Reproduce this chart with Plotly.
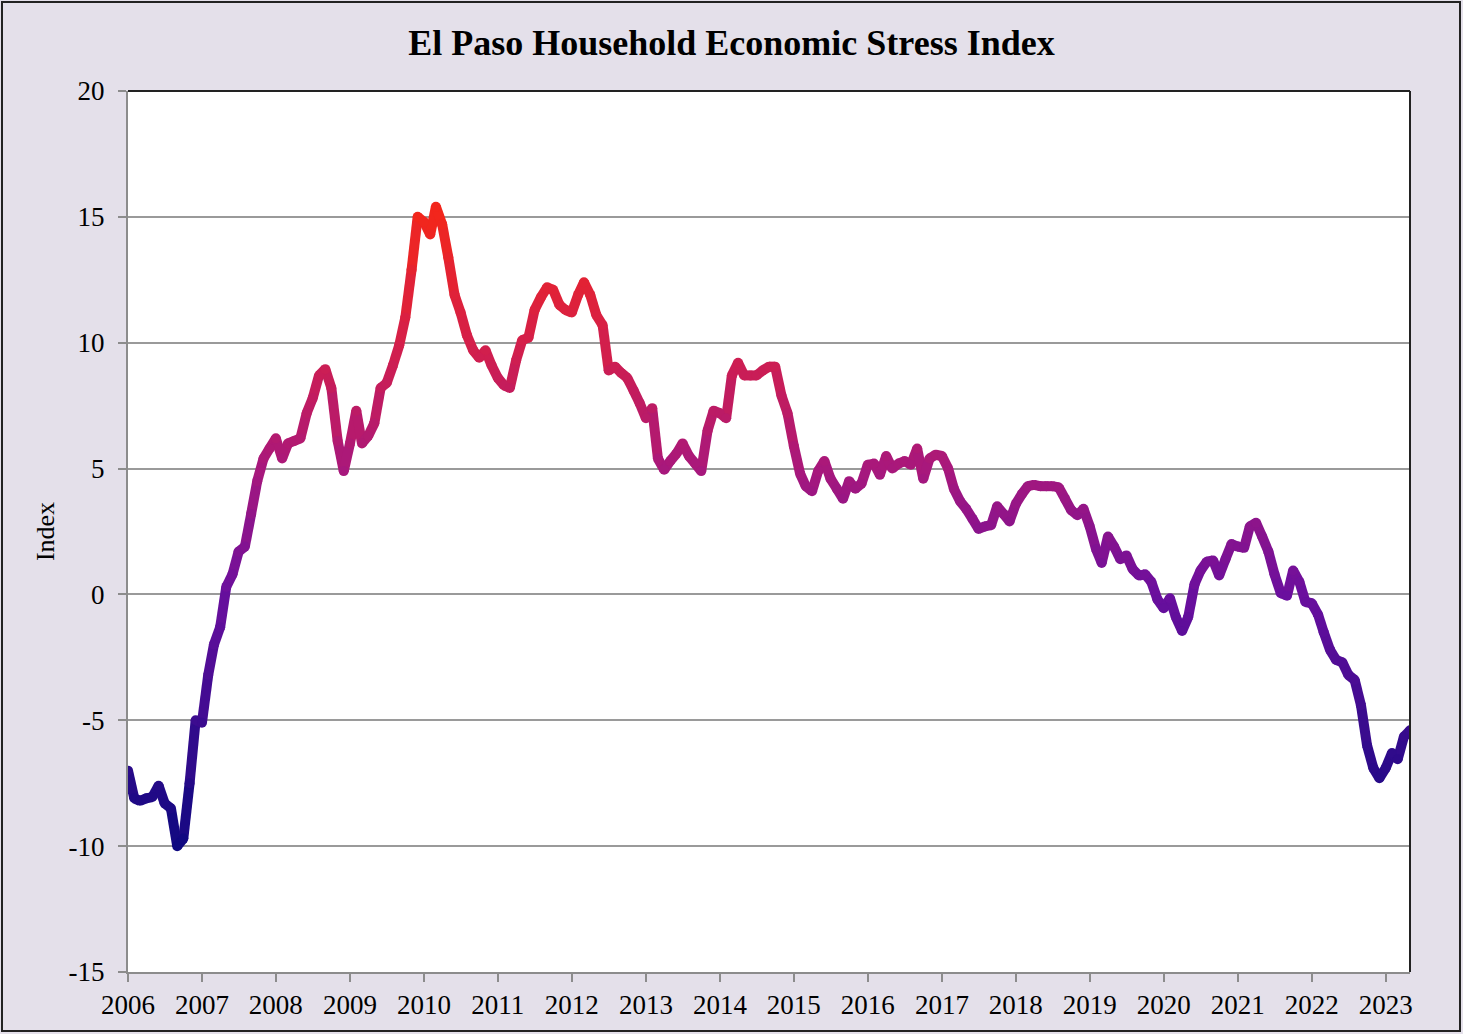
import pandas as pd
import plotly.graph_objects as go
from plotly.colors import sample_colorscale

# monthly index values, Jan 2006 .. May 2023
stress_index = [
    -7.0, -8.1, -8.2, -8.1, -8.05, -7.6, -8.3, -8.5, -10.0, -9.7, -7.5, -5.0,
    -5.1, -3.2, -2.0, -1.3, 0.3, 0.8, 1.7, 1.9, 3.2, 4.5, 5.4, 5.8,
    6.2, 5.4, 6.0, 6.1, 6.2, 7.2, 7.8, 8.7, 8.95, 8.2, 6.1, 4.9,
    6.0, 7.3, 6.0, 6.3, 6.8, 8.2, 8.4, 9.1, 9.9, 11.0, 12.9, 15.0,
    14.8, 14.3, 15.4, 14.7, 13.4, 11.9, 11.2, 10.3, 9.7, 9.4, 9.7, 9.1,
    8.6, 8.3, 8.2, 9.3, 10.1, 10.2, 11.3, 11.8, 12.2, 12.1, 11.5, 11.3,
    11.2, 11.9, 12.4, 11.9, 11.1, 10.7, 8.9, 9.05, 8.8, 8.6, 8.1, 7.6,
    7.0, 7.4, 5.4, 4.95, 5.3, 5.6, 6.0, 5.5, 5.2, 4.9, 6.5, 7.3,
    7.2, 7.0, 8.7, 9.2, 8.7, 8.7, 8.7, 8.9, 9.05, 9.05, 7.9, 7.2,
    5.9, 4.8, 4.3, 4.1, 4.9, 5.3, 4.6, 4.2, 3.8, 4.5, 4.2, 4.4,
    5.15, 5.2, 4.75, 5.5, 5.0, 5.2, 5.3, 5.15, 5.8, 4.6, 5.4, 5.55,
    5.5, 5.0, 4.2, 3.7, 3.4, 3.0, 2.6, 2.7, 2.75, 3.5, 3.2, 2.9,
    3.6, 4.0, 4.3, 4.35, 4.3, 4.3, 4.3, 4.25, 3.8, 3.35, 3.15, 3.4,
    2.7, 1.8, 1.25, 2.3, 1.9, 1.4, 1.55, 1.0, 0.75, 0.8, 0.5, -0.2,
    -0.55, -0.15, -0.9, -1.45, -0.9, 0.4, 0.95, 1.3, 1.35, 0.75, 1.4, 2.0,
    1.9, 1.85, 2.7, 2.85, 2.3, 1.7, 0.8, 0.05, -0.05, 0.95, 0.5, -0.3,
    -0.35, -0.8, -1.5, -2.2, -2.6, -2.7, -3.2, -3.4, -4.4, -6.0, -6.9, -7.3,
    -6.9, -6.3, -6.55, -5.65, -5.4,
]
months = pd.date_range("2006-01-01", periods=len(stress_index), freq="MS")

years = list(range(2006, 2024))
year_ticks = [f"{y}-01-01" for y in years]
year_labels = [str(y) for y in years]
y_ticks = [-15, -10, -5, 0, 5, 10, 15, 20]
y_labels = [str(v) for v in y_ticks]  # plain hyphen, not unicode minus

# blue (low stress) -> red (high stress)
cscale = [[0.0, "#0e0880"], [0.4, "#6a0f9e"], [0.6, "#a8187c"],
          [0.8, "#d41f4a"], [1.0, "#f2261c"]]
vmin, vmax = -10, 15


def color_for(v):
    t = min(max((v - vmin) / (vmax - vmin), 0), 1)
    return sample_colorscale(cscale, [t])[0]


fig = go.Figure()

# one short trace per month step so the line can shade with its value
for i in range(len(stress_index) - 1):
    mid = (stress_index[i] + stress_index[i + 1]) / 2
    fig.add_trace(go.Scatter(
        x=months[i:i + 2], y=stress_index[i:i + 2], mode="lines",
        line=dict(color=color_for(mid), width=10),
        showlegend=False, hoverinfo="skip",
    ))

# round joints
fig.add_trace(go.Scatter(
    x=months, y=stress_index, mode="markers",
    marker=dict(size=10, color=[color_for(v) for v in stress_index], line=dict(width=0)),
    showlegend=False,
))

serif = "Liberation Serif, Times New Roman, serif"

fig.update_layout(
    width=1463, height=1034,
    paper_bgcolor="#e4e0ea", plot_bgcolor="white",
    margin=dict(l=128, r=53, t=91, b=62),
    font=dict(family=serif, size=27, color="black"),
    title=dict(text="<b>El Paso Household Economic Stress Index</b>",
               x=0.5, xref="container", xanchor="center",
               y=1 - 42 / 1034, yanchor="middle",
               font=dict(family=serif, size=36)),
    showlegend=False,
)
fig.update_xaxes(
    type="date", range=["2006-01-01", "2023-05-01"],
    tickvals=year_ticks, ticktext=year_labels,
    showgrid=False, zeroline=False,
    showline=True, linecolor="#8c8c8c", linewidth=2,
    ticks="outside", ticklen=8, tickwidth=2, tickcolor="#8c8c8c",
)
fig.update_yaxes(
    range=[-15, 20], tickvals=y_ticks, ticktext=y_labels,
    showgrid=True, gridcolor="#9a9a9a", gridwidth=1.5, zeroline=False,
    showline=True, linecolor="#8c8c8c", linewidth=2,
    ticks="outside", ticklen=8, tickwidth=2, tickcolor="#8c8c8c",
    ticklabelstandoff=8,
    title=dict(text="Index", font=dict(size=26), standoff=6),
)

# black frame on the top and right of the plot area
fig.add_shape(type="line", xref="paper", yref="paper", x0=0, x1=1, y0=1, y1=1,
              line=dict(color="#222222", width=2))
fig.add_shape(type="line", xref="paper", yref="paper", x0=1, x1=1, y0=0, y1=1,
              line=dict(color="#222222", width=2))
# outer border of the chart
fig.add_shape(type="rect", xref="paper", yref="paper",
              x0=(2 - 128) / 1282, x1=(1460 - 128) / 1282,
              y0=(972 - 1031) / 881, y1=(972 - 2) / 881,
              line=dict(color="#222222", width=2), layer="below")

fig.write_html("out.html", config={"displayModeBar": False},
               post_script="document.body.style.margin='0px';")
